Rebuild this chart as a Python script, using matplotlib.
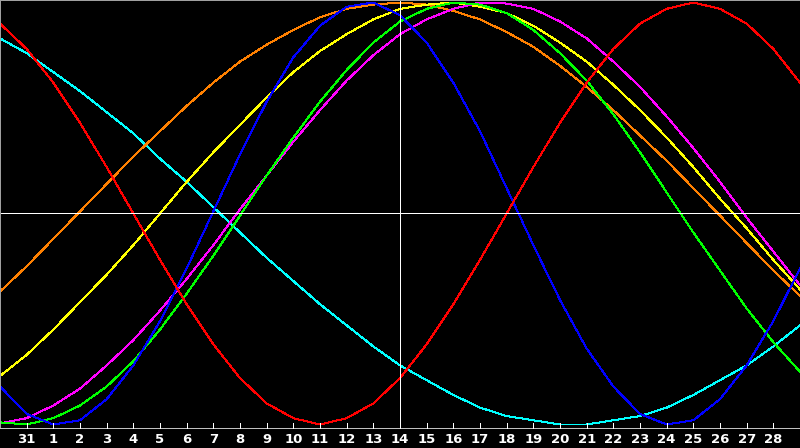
import matplotlib
matplotlib.use("Agg")
import matplotlib.pyplot as plt

# day index -1 .. 29 (index 0 is the 31st of the previous month)
days = list(range(-1, 30))
day_labels = ["31"] + [str(d) for d in range(1, 29)]
today = 14

# cycle values, one sample per day (-1 .. 1)
red = [0.90, 0.78, 0.62, 0.43, 0.22, 0.00, -0.22, -0.43, -0.62, -0.78, -0.90,
       -0.97, -1.00, -0.97, -0.90, -0.78, -0.62, -0.43, -0.22, 0.00, 0.22,
       0.43, 0.62, 0.78, 0.90, 0.97, 1.00, 0.97, 0.90, 0.78, 0.62]
blue = [-0.82, -0.95, -1.00, -0.98, -0.88, -0.72, -0.51, -0.26, 0.01, 0.28, 0.53,
        0.74, 0.89, 0.98, 1.00, 0.94, 0.81, 0.62, 0.39, 0.12, -0.15,
        -0.41, -0.64, -0.82, -0.95, -1.00, -0.98, -0.88, -0.72, -0.51, -0.26]
green = [-0.99, -1.00, -0.97, -0.91, -0.82, -0.70, -0.55, -0.38, -0.20, -0.01, 0.18,
         0.36, 0.53, 0.68, 0.81, 0.91, 0.97, 1.00, 0.99, 0.95, 0.87,
         0.76, 0.63, 0.47, 0.29, 0.10, -0.09, -0.27, -0.45, -0.61, -0.75]
cyan = [0.83, 0.76, 0.67, 0.58, 0.48, 0.38, 0.26, 0.15, 0.03, -0.09, -0.21,
        -0.32, -0.43, -0.53, -0.63, -0.72, -0.79, -0.86, -0.92, -0.96, -0.98,
        -1.00, -1.00, -0.98, -0.96, -0.92, -0.86, -0.79, -0.72, -0.63, -0.53]
orange = [-0.37, -0.25, -0.12, 0.01, 0.14, 0.27, 0.39, 0.51, 0.62, 0.72, 0.80,
          0.87, 0.93, 0.97, 0.99, 1.00, 0.99, 0.96, 0.92, 0.86, 0.79,
          0.70, 0.60, 0.49, 0.37, 0.25, 0.12, -0.01, -0.14, -0.27, -0.39]
yellow = [-0.77, -0.67, -0.55, -0.42, -0.29, -0.15, 0.00, 0.15, 0.29, 0.42, 0.55,
          0.67, 0.77, 0.85, 0.92, 0.97, 0.99, 1.00, 0.98, 0.95, 0.89,
          0.81, 0.72, 0.61, 0.49, 0.36, 0.22, 0.07, -0.07, -0.22, -0.36]
magenta = [-0.995, -0.97, -0.91, -0.83, -0.72, -0.60, -0.46, -0.31, -0.15, 0.02, 0.18,
           0.34, 0.49, 0.63, 0.75, 0.85, 0.92, 0.97, 1.00, 0.995, 0.97,
           0.91, 0.83, 0.72, 0.60, 0.46, 0.31, 0.15, -0.02, -0.18, -0.34]

series = [(cyan, "#00ffff"), (orange, "#ff8000"), (yellow, "#ffff00"),
          (magenta, "#ff00ff"), (green, "#00ff00"), (blue, "#0000ff"),
          (red, "#ff0000")]

# pixel row -> value (zero line at row 213.5, amplitude 211 px)
def pv(py):
    return (213.5 - py) / 211.0

PX = 0.72  # one pixel line width at 100 dpi

fig = plt.figure(figsize=(8, 4.48), dpi=100, facecolor="black")
ax = fig.add_axes([0, 0, 1, 1])
ax.set_facecolor("black")
ax.set_xlim(-1, 29)
ax.set_ylim(pv(448), pv(0))
ax.axis("off")

for vals, col in series:
    ax.plot(days, vals, color=col, lw=PX, antialiased=False, zorder=3)

# crosshair
ax.axhline(0, color="white", lw=PX, antialiased=False, zorder=4)
ax.vlines(today, pv(428), pv(0), color="white", lw=PX, antialiased=False, zorder=4)

# frame and bottom axis
ax.vlines(-1, pv(428), pv(0), color="#a0a0a0", lw=2 * PX, antialiased=False, zorder=5)
ax.axhline(pv(0.5), color="#a0a0a0", lw=2 * PX, antialiased=False, zorder=5)
ax.axhline(pv(428), color="#c0c0c0", lw=PX, antialiased=False, zorder=5)

for d, lab in zip(days[1:-1], day_labels):
    ax.vlines(d, pv(428), pv(423), color="white", lw=PX, antialiased=False, zorder=5)
    ax.text(d, pv(439.5), lab, color="white", fontsize=9.5, fontweight="bold",
            family="DejaVu Sans", ha="center", va="center", zorder=6)

fig.savefig("out.png", dpi=100, facecolor="black")
